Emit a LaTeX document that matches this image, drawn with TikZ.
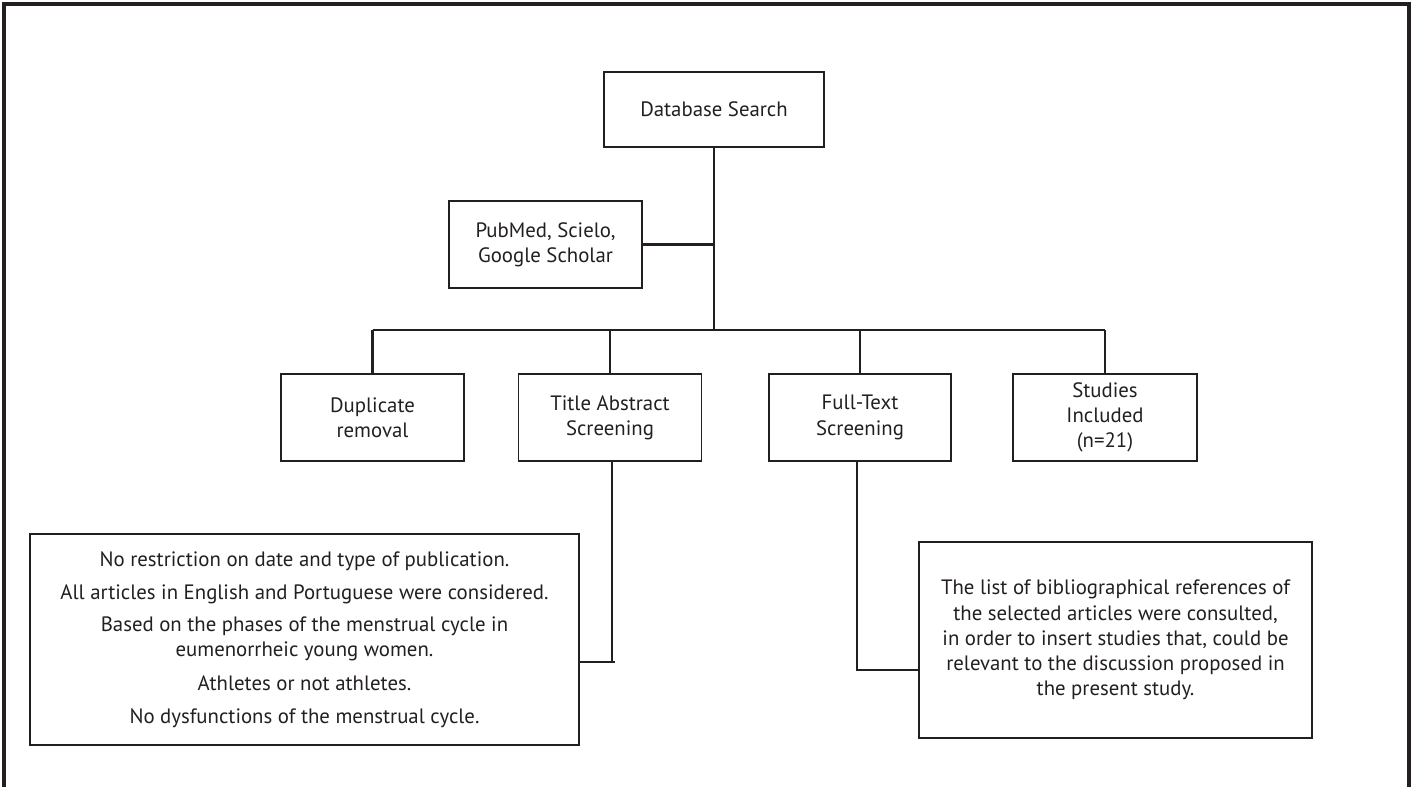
\documentclass[tikz,border=0pt]{standalone}
\usepackage{fontspec}
\setmainfont{PT Sans}
\definecolor{ink}{HTML}{231F20}
\begin{document}
\begin{tikzpicture}[x=0.5pt,y=-0.5pt,
  box/.style={draw=ink,line width=0.75pt,inner sep=0pt,align=center,text=ink,
    font=\fontsize{10.4}{12.6}\selectfont},
  conn/.style={draw=ink,line width=1.3pt},
  frameline/.style={draw=ink,line width=1.6pt}]
\useasboundingbox (0,0) rectangle (1413,787);
\draw[frameline] (4,787) -- (4,4) -- (1409,4) -- (1409,787);

\node[box,minimum width=110pt,minimum height=37.5pt] (db) at (714,109.5) {Database Search};
\node[box,minimum width=96.5pt,minimum height=43.5pt] (pub) at (545.5,244.5) {PubMed, Scielo,\\Google Scholar};
\node[box,minimum width=91.5pt,minimum height=43.5pt] (dup) at (372.5,417.5) {Duplicate\\removal};
\node[box,minimum width=91.5pt,minimum height=43.5pt] (tas) at (610,417.5) {Title Abstract\\Screening};
\node[box,minimum width=91pt,minimum height=43.5pt] (fts) at (860,417.5) {Full-Text\\Screening};
\node[box,minimum width=92pt,minimum height=43.5pt] (inc) at (1105,417.5) {Studies\\Included\\(n=21)};
\node[box,minimum width=274.5pt,minimum height=105.5pt] (crit) at (304.5,639.5)
  {No restriction on date and type of publication.\\[4pt]
   All articles in English and Portuguese were considered.\\[3.5pt]
   Based on the phases of the menstrual cycle in\\
   eumenorrheic young women.\\[4pt]
   Athletes or not athletes.\\[4pt]
   No dysfunctions of the menstrual cycle.};
\node[box,minimum width=196.5pt,minimum height=98pt] (refs) at (1115.5,640)
  {The list of bibliographical references of\\
   the selected articles were consulted,\\
   in order to insert studies that, could be\\
   relevant to the discussion proposed in\\
   the present study.};

\coordinate (bus) at (714,330);
\coordinate (tl) at (612,662);
\coordinate (fl) at (857,670);

\draw[conn] (db.south) -- (bus);
\draw[conn] (pub.east) -- (pub.east -| bus);
\draw[conn] (dup.north |- bus) -- (inc.north |- bus);
\draw[conn] (dup.north) -- (dup.north |- bus);
\draw[conn] (tas.north) -- (tas.north |- bus);
\draw[conn] (fts.north) -- (fts.north |- bus);
\draw[conn] (inc.north) -- (inc.north |- bus);
\draw[conn] (tas.south -| tl) -- (tl) -- ++(3,0);
\draw[conn] (tl) -- (crit.east |- tl);
\draw[conn] (fts.south -| fl) -- (fl) -- (refs.west |- fl);
\end{tikzpicture}
\end{document}
